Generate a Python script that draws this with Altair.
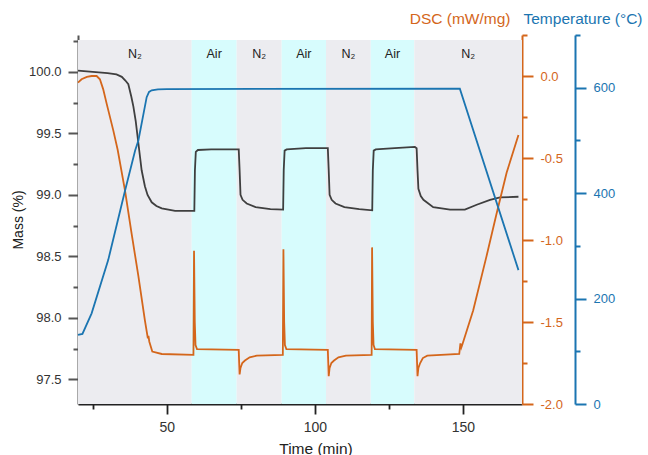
import altair as alt
import pandas as pd

# ---------------- data ----------------
seg_start = [20, 58.4, 73.6, 88.8, 103.8, 118.9, 133.6]
seg_end = [58.4, 73.6, 88.8, 103.8, 118.9, 133.6, 170]
seg_gas = ["N₂", "Air", "N₂", "Air", "N₂", "Air", "N₂"]

mass_t = [20, 25, 30, 33, 34.8, 36, 37, 38, 38.7, 39.5, 40.4, 41, 41.5, 42.6, 43.5, 44.9, 46.5, 48.3,
          52.8, 59.3, 59.5, 59.8, 60.5, 65, 70, 74.3, 74.6, 74.9, 75.6, 77, 80, 85, 89.3,
          89.5, 89.8, 90.5, 97, 104.4, 104.7, 105, 105.7, 107, 110, 115, 119.4,
          119.6, 119.9, 120.6, 127, 133.8, 134.4, 134.7, 135, 135.8, 136.7, 140, 145.7,
          150.7, 154.7, 159.2, 162.6, 168.8]
mass_v = [100.01, 100.0, 99.99, 99.98, 99.96, 99.93, 99.9, 99.8, 99.72, 99.6, 99.42, 99.3, 99.2, 99.07,
          99.0, 98.94, 98.91, 98.89, 98.87, 98.87, 99.2, 99.35, 99.365, 99.37, 99.37, 99.37, 99.2,
          99.0, 98.96, 98.93, 98.9, 98.885, 98.88, 99.2, 99.36, 99.37, 99.38, 99.38, 99.2, 99.0,
          98.96, 98.93, 98.9, 98.885, 98.875, 99.2, 99.36, 99.37, 99.38, 99.39, 99.38, 99.2, 99.05,
          98.99, 98.96, 98.9, 98.88, 98.88, 98.92, 98.96, 98.98, 98.985]

dsc_t = [20, 21.2, 23, 24.6, 26.3, 27.4, 28.5, 29.7, 31.9, 33.4, 35.9, 38.1, 40.4, 42.6, 43.6, 43.8,
         44.1, 45.1, 48.3, 59.0, 59.2, 59.45, 59.7, 60.2, 74.3, 74.45, 74.6, 74.9, 75.5, 76.4, 78,
         80.4, 89.2, 89.4, 89.65, 89.9, 90.4, 104.4, 104.55, 104.7, 105, 105.6, 106.5, 108, 110.5,
         119.2, 119.35, 119.6, 119.85, 120.3, 134.4, 134.55, 134.7, 135, 135.6, 136.5, 138, 148.8,
         149.2, 149.5, 149.8, 153.5, 158, 161.4, 164.8, 168.8]
dsc_v = [-0.04, -0.02, -0.005, 0.0, 0.0, -0.02, -0.08, -0.17, -0.33, -0.45, -0.70, -0.96, -1.22,
         -1.49, -1.60, -1.585, -1.62, -1.68, -1.695, -1.70, -1.065, -1.5, -1.64, -1.665, -1.67,
         -1.75, -1.82, -1.78, -1.75, -1.735, -1.715, -1.705, -1.70, -1.057, -1.5, -1.64, -1.665,
         -1.67, -1.75, -1.83, -1.78, -1.75, -1.735, -1.715, -1.705, -1.70, -1.045, -1.5, -1.64,
         -1.665, -1.67, -1.75, -1.83, -1.78, -1.75, -1.72, -1.705, -1.695, -1.63, -1.655, -1.64,
         -1.43, -1.10, -0.84, -0.59, -0.36]

temp_t = [20, 21.5, 24.6, 30.2, 35.9, 39.3, 40.4, 43.2, 44, 44.9, 47, 50, 149, 168.8]
temp_v = [131, 133, 172, 273, 405, 481, 500, 582, 592, 595, 597, 597.5, 598, 254]

x_ticks = [25, 50, 75, 100, 125, 150]
mass_ticks = [97.5, 97.75, 98.0, 98.25, 98.5, 98.75, 99.0, 99.25, 99.5, 99.75, 100.0, 100.25]
dsc_ticks = [-2.0, -1.75, -1.5, -1.25, -1.0, -0.75, -0.5, -0.25, 0.0, 0.25]
temp_ticks = [0, 100, 200, 300, 400, 500, 600, 700]

# ---------------- style ----------------
FONT = "Liberation Sans"
ORANGE = "#D4661B"
BLUE = "#1B75B1"
DARK = "#3f3f3f"
GRAY = "#ECECF0"
CYAN = "#D7FCFD"

seg = pd.DataFrame({"start": seg_start, "end": seg_end, "gas": seg_gas})
seg["mid"] = (seg["start"] + seg["end"]) / 2
mass_df = pd.DataFrame({"t": mass_t, "v": mass_v})
dsc_df = pd.DataFrame({"t": dsc_t, "v": dsc_v})
temp_df = pd.DataFrame({"t": temp_t, "v": temp_v})

half = "abs(datum.value*2 - round(datum.value*2)) < 0.001"

x_scale = alt.Scale(domain=[20, 170], nice=False, zero=False)
x_axis = alt.Axis(
    title="Time (min)", values=x_ticks,
    labelExpr="datum.value % 50 == 0 ? datum.label : ''",
    tickSize={"condition": {"test": "datum.value % 50 != 0", "value": 5}, "value": 10},
    tickColor="#222", domainColor="#222", domainWidth=1.8, tickWidth=1.8,
    labelFont=FONT, labelFontSize=14, labelColor="#333", labelPadding=6, labelOverlap=False,
    titleFont=FONT, titleFontSize=15.5, titleFontWeight="normal", titleColor="#222",
    titleX=237.5, titleY=44, titleAlign="center", titleBaseline="middle", grid=False,
)

mass_axis = alt.Axis(
    title="Mass (%)", orient="left", values=mass_ticks,
    labelExpr=f"{half} ? format(datum.value, '.1f') : ''",
    tickSize={"condition": {"test": f"!({half})", "value": 5}, "value": 10},
    tickColor="#555", domainColor="#555", domainWidth=2, tickWidth=2,
    labelFont=FONT, labelFontSize=13, labelColor="#333", labelPadding=7, labelOverlap=False,
    titleFont=FONT, titleFontSize=14, titleFontWeight="normal", titleColor="#222",
    titleAngle=270, titleX=-60, titleY=184.5, titleAlign="center", titleBaseline="middle", grid=False,
)

dsc_axis = alt.Axis(
    title="DSC (mW/mg)", orient="right", offset=0, values=dsc_ticks,
    labelExpr=f"{half} ? replace(format(datum.value, '.1f'), '\u2212', '-') : ''",
    tickSize={"condition": {"test": f"!({half})", "value": 5}, "value": 11},
    tickColor=ORANGE, domainColor=ORANGE, domainWidth=2, tickWidth=2,
    labelFont=FONT, labelFontSize=13, labelColor=ORANGE, labelPadding=7, labelOverlap=False,
    labelAlign="left",
    titleFont=FONT, titleFontSize=15.5, titleFontWeight="normal", titleColor=ORANGE,
    titleAngle=0, titleX=-12, titleY=-17, titleAlign="right", titleBaseline="middle", grid=False,
)

temp_axis = alt.Axis(
    title="Temperature (°C)", orient="right", offset=53, values=temp_ticks,
    labelExpr="datum.value % 200 == 0 ? datum.label : ''",
    tickSize={"condition": {"test": "datum.value % 200 != 0", "value": 5}, "value": 11},
    tickColor=BLUE, domainColor=BLUE, domainWidth=2, tickWidth=2,
    labelFont=FONT, labelFontSize=13, labelColor=BLUE, labelPadding=7, labelOverlap=False,
    labelAlign="left",
    titleFont=FONT, titleFontSize=15.5, titleFontWeight="normal", titleColor=BLUE,
    titleAngle=0, titleX=-52, titleY=-17, titleAlign="left", titleBaseline="middle", grid=False,
)

bands = alt.Chart(seg).mark_rect().encode(
    x=alt.X("start:Q", scale=x_scale, axis=x_axis),
    x2="end:Q",
    y=alt.value(5),
    y2=alt.value(369),
    color=alt.Color("gas:N", scale=alt.Scale(domain=["N₂", "Air"], range=[GRAY, CYAN]), legend=None),
)

labels = alt.Chart(seg).mark_text(font=FONT, fontSize=12.5, color="#222").encode(
    x=alt.X("mid:Q", scale=x_scale, axis=x_axis),
    y=alt.value(19),
    text="gas:N",
)

mass = alt.Chart(mass_df).mark_line(color=DARK, strokeWidth=1.8).encode(
    x=alt.X("t:Q", scale=x_scale, axis=x_axis),
    y=alt.Y("v:Q", scale=alt.Scale(domain=[97.3, 100.3], nice=False, zero=False), axis=mass_axis),
)

dsc = alt.Chart(dsc_df).mark_line(color=ORANGE, strokeWidth=1.8).encode(
    x=alt.X("t:Q", scale=x_scale, axis=x_axis),
    y=alt.Y("v:Q", scale=alt.Scale(domain=[-2.0, 0.25], nice=False, zero=False), axis=dsc_axis),
)

temp = alt.Chart(temp_df).mark_line(color=BLUE, strokeWidth=1.8).encode(
    x=alt.X("t:Q", scale=x_scale, axis=x_axis),
    y=alt.Y("v:Q", scale=alt.Scale(domain=[0, 700], nice=False, zero=False), axis=temp_axis),
)

left = alt.layer(bands, labels, mass)

chart = (
    alt.layer(left, dsc, temp)
    .resolve_scale(y="independent")
    .properties(
        width=444, height=369,
        autosize=alt.AutoSizeParams(type="none"),
        padding={"left": 78, "top": 35, "right": 126, "bottom": 51},
        background="white",
    )
    .configure_view(stroke=None)
)

chart.save("out.html", embed_options={"renderer": "svg", "actions": False})
